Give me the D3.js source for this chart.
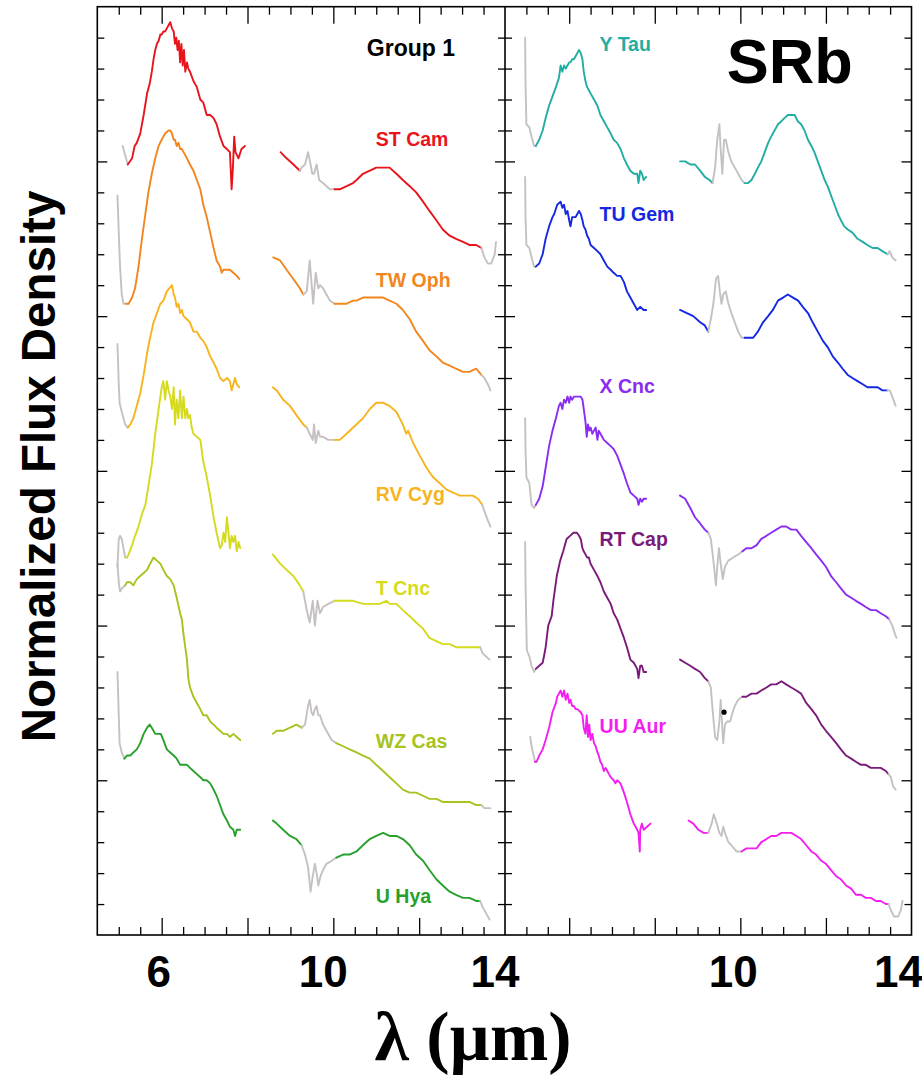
<!DOCTYPE html>
<html><head><meta charset="utf-8">
<script src="https://cdn.jsdelivr.net/npm/d3@7"></script>
<style>body{margin:0;background:#fff}svg{display:block}</style>
</head><body>
<svg id="chart" width="922" height="1082"></svg>
<script>
// ---------------- DATA (λ in µm, offset normalized flux) ----------------
const stCamA=[[5.09,25.5],[5.21,24.9],[5.31,25.1],[5.37,25.5],[5.42,25.6],[5.50,25.9],[5.58,26.5],[5.66,27.2],[5.72,27.5],[5.77,27.9],[5.81,28.3],[5.85,28.6],[5.89,28.8],[5.93,28.9],[5.97,29.1],[6.00,29.1],[6.04,29.2],[6.08,29.2],[6.12,29.3],[6.16,29.4],[6.20,29.5],[6.24,29.3],[6.28,29.2],[6.31,28.8],[6.34,29.0],[6.37,28.6],[6.40,28.9],[6.43,28.2],[6.46,28.8],[6.49,28.1],[6.52,28.6],[6.55,27.9],[6.59,28.2],[6.62,28.0],[6.66,27.9],[6.74,27.6],[6.82,27.4],[6.90,27.0],[6.97,26.9],[7.05,26.5],[7.13,26.5],[7.21,26.4],[7.28,26.2],[7.36,25.8],[7.44,25.5],[7.52,25.4],[7.59,25.3],[7.63,24.1],[7.66,24.8],[7.69,25.8],[7.72,25.3],[7.79,25.1],[7.86,25.4],[7.94,25.5]];
const stCamB=[[8.77,25.3],[8.91,25.1],[9.07,24.9],[9.22,24.7],[9.26,24.8],[9.34,24.9],[9.41,25.3],[9.47,24.9],[9.51,24.6],[9.55,24.6],[9.61,24.9],[9.67,24.4],[9.76,24.3],[9.84,24.2],[9.92,24.1],[10.03,24.1],[10.15,24.1],[10.31,24.2],[10.46,24.3],[10.54,24.4],[10.69,24.6],[10.85,24.7],[11.0,24.8],[11.16,24.8],[11.31,24.8],[11.47,24.6],[11.62,24.4],[11.78,24.2],[11.93,24.0],[12.09,23.7],[12.24,23.4],[12.4,23.1],[12.55,22.8],[12.71,22.6],[12.86,22.5],[13.02,22.4],[13.17,22.3],[13.33,22.3],[13.45,22.2],[13.52,21.9],[13.6,21.7],[13.68,21.7],[13.76,22.0],[13.79,22.4]];
const twOphA=[[4.97,23.9],[5.0,22.7],[5.03,21.6],[5.07,20.7],[5.11,20.4],[5.17,20.4],[5.23,20.4],[5.31,20.6],[5.38,20.9],[5.46,21.6],[5.54,22.5],[5.62,23.3],[5.69,24.0],[5.77,24.6],[5.85,25.1],[5.93,25.5],[6.0,25.7],[6.08,25.9],[6.16,26.0],[6.2,26.0],[6.24,25.9],[6.28,25.7],[6.31,25.7],[6.35,25.5],[6.39,25.6],[6.43,25.4],[6.47,25.4],[6.51,25.3],[6.59,25.1],[6.66,24.9],[6.74,24.7],[6.82,24.4],[6.9,24.1],[6.97,23.6],[7.05,23.2],[7.13,22.7],[7.21,22.2],[7.28,21.8],[7.36,21.6],[7.4,21.4],[7.44,21.5],[7.52,21.5],[7.59,21.5],[7.67,21.4],[7.75,21.3],[7.81,21.2]];
const twOphB=[[8.6,21.9],[8.76,21.8],[8.91,21.5],[9.07,21.2],[9.22,20.9],[9.3,20.7],[9.38,20.8],[9.45,21.8],[9.49,21.1],[9.53,20.4],[9.59,21.4],[9.65,20.9],[9.69,21.0],[9.76,20.9],[9.84,20.7],[9.92,20.5],[10.03,20.4],[10.15,20.4],[10.31,20.4],[10.46,20.5],[10.54,20.5],[10.69,20.6],[10.85,20.6],[11.0,20.6],[11.16,20.6],[11.31,20.5],[11.47,20.4],[11.62,20.2],[11.78,19.9],[11.93,19.5],[12.09,19.2],[12.24,18.9],[12.4,18.7],[12.55,18.5],[12.71,18.4],[12.86,18.3],[13.02,18.2],[13.17,18.2],[13.33,18.3],[13.45,18.1],[13.52,18.0],[13.6,17.8],[13.66,17.6]];
const rvCygA=[[4.97,19.1],[5.0,17.8],[5.02,17.2],[5.07,16.9],[5.15,16.5],[5.21,16.4],[5.27,16.5],[5.34,16.7],[5.42,17.1],[5.5,17.5],[5.58,18.1],[5.66,18.8],[5.73,19.3],[5.81,19.8],[5.89,20.1],[5.97,20.4],[6.04,20.5],[6.12,20.8],[6.24,21.0],[6.28,20.7],[6.31,20.6],[6.35,20.3],[6.39,20.4],[6.43,20.1],[6.47,20.2],[6.51,20.0],[6.59,19.9],[6.66,19.8],[6.74,19.5],[6.82,19.5],[6.9,19.3],[6.97,19.2],[7.05,19.0],[7.13,18.7],[7.21,18.5],[7.28,18.3],[7.36,18.0],[7.44,17.9],[7.52,18.0],[7.59,17.9],[7.63,17.6],[7.67,17.8],[7.71,18.0],[7.75,17.8],[7.81,17.7]];
const rvCygB=[[8.59,17.7],[8.68,17.6],[8.83,17.3],[8.99,17.1],[9.14,16.8],[9.3,16.5],[9.38,16.4],[9.45,16.2],[9.52,16.0],[9.55,16.5],[9.59,15.9],[9.65,16.3],[9.69,16.1],[9.76,16.1],[9.88,16.0],[10.03,16.0],[10.15,16.0],[10.31,16.2],[10.46,16.4],[10.54,16.5],[10.69,16.7],[10.85,17.0],[11.0,17.2],[11.08,17.2],[11.16,17.2],[11.31,17.1],[11.47,16.9],[11.62,16.5],[11.7,16.2],[11.74,16.3],[11.86,15.9],[12.01,15.5],[12.17,15.1],[12.32,14.8],[12.48,14.6],[12.63,14.4],[12.79,14.3],[12.94,14.2],[13.1,14.2],[13.25,14.2],[13.37,14.1],[13.47,13.9],[13.52,13.7],[13.6,13.4],[13.66,13.2]];
const tCncA=[[4.97,11.9],[5.0,12.8],[5.03,12.9],[5.07,12.8],[5.11,12.5],[5.15,12.2],[5.19,12.2],[5.23,12.3],[5.31,12.6],[5.38,12.9],[5.46,13.2],[5.54,13.6],[5.62,13.9],[5.69,14.5],[5.77,15.2],[5.85,16.2],[5.93,17.0],[6.0,17.7],[6.04,17.9],[6.08,17.3],[6.12,17.9],[6.16,17.6],[6.2,17.4],[6.24,17.0],[6.28,17.7],[6.31,16.5],[6.35,17.3],[6.39,16.7],[6.43,17.6],[6.47,16.7],[6.51,17.4],[6.55,16.7],[6.59,17.0],[6.62,16.7],[6.66,16.8],[6.7,16.4],[6.74,16.2],[6.82,16.1],[6.9,16.0],[6.97,15.3],[7.05,14.8],[7.13,14.2],[7.21,13.5],[7.28,13.0],[7.36,12.5],[7.4,12.6],[7.44,13.0],[7.48,12.7],[7.52,13.5],[7.55,13.1],[7.59,12.5],[7.63,12.9],[7.67,12.7],[7.71,12.9],[7.75,12.4],[7.79,12.7],[7.83,12.5]];
const tCncB=[[8.59,12.3],[8.76,12.0],[8.91,11.8],[9.07,11.6],[9.22,11.3],[9.3,11.1],[9.38,10.5],[9.45,10.1],[9.52,10.8],[9.57,10.0],[9.63,10.8],[9.69,10.4],[9.76,10.6],[9.88,10.7],[10.03,10.8],[10.23,10.8],[10.46,10.8],[10.69,10.7],[10.93,10.7],[11.08,10.7],[11.24,10.8],[11.31,10.7],[11.47,10.7],[11.62,10.5],[11.78,10.3],[11.93,10.1],[12.09,9.9],[12.24,9.6],[12.4,9.5],[12.55,9.4],[12.71,9.4],[12.86,9.3],[13.02,9.3],[13.17,9.3],[13.33,9.3],[13.42,9.3],[13.48,9.1],[13.56,9.0],[13.64,8.9]];
const wzCasA=[[4.97,12.0],[5.0,11.4],[5.03,11.1],[5.07,11.2],[5.15,11.3],[5.19,11.4],[5.27,11.4],[5.34,11.3],[5.42,11.5],[5.5,11.6],[5.58,11.7],[5.66,11.8],[5.73,12.0],[5.81,12.2],[5.89,12.1],[5.97,12.0],[6.04,11.8],[6.12,11.6],[6.2,11.5],[6.28,11.3],[6.35,10.9],[6.43,10.4],[6.47,10.2],[6.51,9.7],[6.59,8.9],[6.62,8.3],[6.66,8.0],[6.74,7.7],[6.82,7.5],[6.9,7.3],[6.97,7.1],[7.05,7.1],[7.13,6.9],[7.21,6.8],[7.28,6.7],[7.36,6.6],[7.44,6.5],[7.52,6.5],[7.59,6.4],[7.67,6.5],[7.75,6.4],[7.83,6.3]];
const wzCasB=[[8.59,6.5],[8.68,6.6],[8.83,6.6],[8.99,6.7],[9.14,6.8],[9.26,6.7],[9.34,6.8],[9.41,7.4],[9.45,7.6],[9.49,7.2],[9.53,7.1],[9.57,7.3],[9.61,7.4],[9.65,7.1],[9.69,7.1],[9.76,6.8],[9.84,6.6],[9.96,6.3],[10.07,6.2],[10.23,6.1],[10.38,6.0],[10.54,5.9],[10.69,5.8],[10.85,5.7],[11.0,5.5],[11.16,5.3],[11.31,5.1],[11.47,4.9],[11.62,4.7],[11.78,4.6],[11.93,4.6],[12.09,4.5],[12.24,4.4],[12.4,4.4],[12.55,4.3],[12.71,4.3],[12.86,4.3],[13.02,4.3],[13.17,4.3],[13.33,4.2],[13.45,4.2],[13.52,4.1],[13.6,4.1],[13.66,4.1]];
const uHyaA=[[4.97,8.5],[5.0,7.1],[5.02,6.2],[5.07,5.9],[5.13,5.7],[5.19,5.8],[5.27,5.8],[5.34,5.9],[5.42,6.0],[5.5,6.2],[5.58,6.5],[5.66,6.7],[5.72,6.8],[5.77,6.7],[5.85,6.5],[5.93,6.5],[5.98,6.5],[6.04,6.3],[6.12,6.0],[6.2,5.9],[6.28,5.8],[6.35,5.7],[6.43,5.5],[6.51,5.5],[6.59,5.5],[6.66,5.4],[6.74,5.3],[6.82,5.2],[6.9,5.1],[6.97,5.0],[7.05,5.0],[7.13,4.9],[7.21,4.7],[7.28,4.5],[7.36,4.2],[7.44,3.9],[7.52,3.7],[7.59,3.5],[7.67,3.4],[7.71,3.2],[7.75,3.4],[7.83,3.4]];
const uHyaB=[[8.59,3.7],[8.68,3.6],[8.83,3.4],[8.99,3.2],[9.14,3.1],[9.26,2.9],[9.34,2.6],[9.41,2.2],[9.47,1.4],[9.52,1.9],[9.57,2.3],[9.61,2.0],[9.65,1.6],[9.7,1.9],[9.76,2.1],[9.84,2.3],[9.96,2.4],[10.07,2.5],[10.23,2.6],[10.38,2.6],[10.54,2.7],[10.69,2.9],[10.85,3.1],[11.0,3.2],[11.16,3.3],[11.31,3.2],[11.47,3.2],[11.62,3.1],[11.78,2.9],[11.93,2.6],[12.09,2.4],[12.24,2.1],[12.4,1.8],[12.55,1.6],[12.71,1.4],[12.86,1.3],[13.02,1.2],[13.17,1.2],[13.33,1.1],[13.42,1.1],[13.48,0.9],[13.56,0.7],[13.64,0.5]];
const yTauA=[[4.97,29.0],[4.98,27.5],[5.0,26.2],[5.07,26.1],[5.12,25.8],[5.18,25.5],[5.22,25.5],[5.3,25.7],[5.38,26.0],[5.45,26.4],[5.53,26.8],[5.61,27.1],[5.69,27.4],[5.76,27.7],[5.8,28.1],[5.84,27.9],[5.88,28.1],[5.92,28.0],[5.96,28.1],[6.0,28.2],[6.03,28.2],[6.07,28.3],[6.11,28.3],[6.15,28.4],[6.19,28.5],[6.23,28.6],[6.27,28.5],[6.31,28.3],[6.34,27.9],[6.38,27.6],[6.42,27.4],[6.46,27.3],[6.5,27.2],[6.58,27.0],[6.66,26.8],[6.73,26.5],[6.81,26.3],[6.89,26.1],[6.97,25.9],[7.04,25.7],[7.12,25.6],[7.2,25.4],[7.28,25.1],[7.35,24.9],[7.43,24.7],[7.51,24.6],[7.59,24.6],[7.62,24.3],[7.66,24.7],[7.7,24.6],[7.74,24.4],[7.8,24.5]];
const yTauB=[[8.59,25.0],[8.71,25.0],[8.83,24.9],[8.94,24.9],[9.06,24.7],[9.17,24.5],[9.28,24.4],[9.35,24.3],[9.41,24.8],[9.46,25.7],[9.51,26.2],[9.54,25.4],[9.58,24.6],[9.62,25.7],[9.66,25.7],[9.72,25.3],[9.79,25.0],[9.87,24.8],[9.95,24.6],[10.03,24.4],[10.1,24.3],[10.18,24.3],[10.26,24.4],[10.34,24.6],[10.41,24.8],[10.49,25.0],[10.57,25.3],[10.65,25.6],[10.72,25.8],[10.8,26.0],[10.88,26.2],[10.96,26.3],[11.03,26.4],[11.11,26.5],[11.19,26.5],[11.27,26.5],[11.34,26.3],[11.42,26.2],[11.5,26.0],[11.58,25.7],[11.66,25.5],[11.73,25.3],[11.81,25.0],[11.89,24.7],[11.97,24.4],[12.04,24.2],[12.12,23.9],[12.2,23.6],[12.28,23.3],[12.35,23.1],[12.43,22.9],[12.51,22.8],[12.62,22.7],[12.74,22.5],[12.86,22.4],[12.97,22.3],[13.09,22.2],[13.21,22.2],[13.32,22.1],[13.44,22.0],[13.49,22.1],[13.55,21.9],[13.63,21.8]];
const tuGemA=[[4.97,24.5],[4.98,23.2],[5.0,22.3],[5.07,22.2],[5.12,21.9],[5.18,21.6],[5.22,21.6],[5.3,21.7],[5.38,22.0],[5.45,22.5],[5.53,22.9],[5.61,23.2],[5.65,23.3],[5.72,23.6],[5.8,23.7],[5.84,23.5],[5.88,23.6],[5.92,23.3],[5.96,23.4],[6.0,23.1],[6.03,22.9],[6.07,23.2],[6.11,23.2],[6.15,23.2],[6.19,23.3],[6.23,23.4],[6.27,23.3],[6.31,23.1],[6.34,22.9],[6.38,22.8],[6.42,22.6],[6.46,22.5],[6.5,22.3],[6.58,22.2],[6.66,22.1],[6.73,22.0],[6.81,21.8],[6.89,21.6],[6.97,21.5],[7.04,21.4],[7.12,21.3],[7.2,21.3],[7.28,21.1],[7.35,20.8],[7.43,20.6],[7.51,20.4],[7.59,20.2],[7.66,20.3],[7.74,20.2],[7.8,20.2]];
const tuGemB=[[8.59,20.2],[8.75,20.1],[8.9,20.0],[9.06,19.8],[9.17,19.7],[9.25,19.5],[9.31,19.9],[9.37,20.4],[9.43,21.2],[9.48,21.3],[9.52,20.8],[9.56,20.4],[9.6,20.7],[9.66,20.8],[9.72,20.4],[9.79,20.1],[9.87,19.8],[9.95,19.5],[10.03,19.3],[10.1,19.3],[10.18,19.3],[10.3,19.3],[10.41,19.5],[10.53,19.8],[10.65,20.0],[10.76,20.2],[10.88,20.5],[11.0,20.6],[11.11,20.7],[11.23,20.6],[11.35,20.5],[11.46,20.3],[11.58,20.1],[11.69,19.8],[11.81,19.5],[11.93,19.2],[12.04,19.0],[12.16,18.7],[12.28,18.5],[12.39,18.3],[12.51,18.1],[12.62,18.0],[12.74,17.9],[12.86,17.8],[12.97,17.7],[13.09,17.7],[13.21,17.7],[13.32,17.6],[13.44,17.6],[13.49,17.6],[13.55,17.4],[13.63,17.1]];
const xCncA=[[4.97,16.7],[4.98,15.7],[5.0,14.8],[5.07,14.6],[5.12,13.9],[5.18,13.8],[5.22,13.9],[5.3,14.1],[5.38,14.5],[5.45,15.1],[5.53,15.8],[5.61,16.3],[5.69,16.7],[5.76,17.1],[5.8,17.2],[5.84,17.0],[5.88,17.3],[5.92,17.2],[5.96,17.4],[6.0,17.2],[6.03,17.4],[6.07,17.3],[6.11,17.4],[6.15,17.4],[6.19,17.4],[6.23,17.4],[6.27,17.4],[6.31,17.3],[6.34,17.0],[6.38,16.6],[6.41,16.1],[6.44,16.5],[6.47,16.3],[6.5,16.4],[6.54,16.2],[6.58,16.3],[6.62,16.4],[6.66,16.0],[6.69,16.3],[6.73,16.2],[6.77,16.1],[6.81,16.0],[6.89,15.9],[6.97,15.8],[7.04,15.7],[7.12,15.5],[7.2,15.2],[7.28,14.9],[7.35,14.6],[7.43,14.3],[7.51,14.2],[7.59,14.1],[7.62,13.9],[7.66,14.1],[7.7,14.0],[7.74,14.1],[7.8,14.1]];
const xCncB=[[8.59,14.2],[8.71,14.1],[8.83,13.8],[8.94,13.5],[9.06,13.3],[9.17,13.1],[9.25,13.0],[9.31,12.8],[9.37,12.1],[9.43,11.3],[9.46,11.9],[9.5,12.5],[9.54,12.0],[9.59,11.5],[9.64,11.9],[9.72,12.1],[9.83,12.2],[9.95,12.3],[10.05,12.4],[10.14,12.5],[10.26,12.5],[10.38,12.6],[10.49,12.8],[10.61,12.9],[10.72,13.0],[10.84,13.1],[10.96,13.2],[11.07,13.2],[11.19,13.1],[11.31,13.1],[11.42,12.9],[11.54,12.7],[11.66,12.5],[11.77,12.3],[11.89,12.1],[12.0,11.9],[12.12,11.6],[12.24,11.4],[12.35,11.2],[12.47,11.0],[12.59,10.9],[12.7,10.8],[12.82,10.7],[12.93,10.6],[13.05,10.5],[13.17,10.5],[13.28,10.4],[13.4,10.3],[13.48,10.2],[13.55,10.0],[13.62,9.7],[13.65,9.6]];
const rtCapA=[[4.97,12.7],[4.98,11.4],[5.0,9.9],[5.01,9.2],[5.07,9.0],[5.12,8.7],[5.18,8.5],[5.22,8.6],[5.3,8.7],[5.38,8.8],[5.41,9.0],[5.45,9.3],[5.51,10.0],[5.59,10.3],[5.63,10.8],[5.71,11.6],[5.79,12.1],[5.86,12.4],[5.94,12.8],[6.02,12.9],[6.1,13.0],[6.18,13.0],[6.23,12.9],[6.27,12.8],[6.31,12.5],[6.34,12.4],[6.38,12.3],[6.42,12.2],[6.46,12.2],[6.5,12.0],[6.58,11.8],[6.66,11.6],[6.73,11.4],[6.81,11.1],[6.89,10.9],[6.97,10.7],[7.04,10.4],[7.12,10.2],[7.2,9.9],[7.28,9.6],[7.35,9.3],[7.43,8.9],[7.51,8.8],[7.59,8.6],[7.62,8.3],[7.66,8.7],[7.7,8.7],[7.74,8.5],[7.8,8.5]];
const rtCapB=[[8.59,8.9],[8.71,8.8],[8.83,8.7],[8.94,8.6],[9.06,8.5],[9.17,8.3],[9.25,8.2],[9.31,8.0],[9.35,7.3],[9.41,6.4],[9.46,6.3],[9.51,6.9],[9.54,7.6],[9.57,6.9],[9.6,6.2],[9.64,6.8],[9.69,6.9],[9.76,6.9],[9.82,7.2],[9.87,7.4],[9.95,7.6],[10.05,7.7],[10.14,7.7],[10.26,7.8],[10.38,7.8],[10.49,7.9],[10.61,8.0],[10.72,8.1],[10.84,8.1],[10.96,8.2],[11.07,8.1],[11.19,8.0],[11.31,7.9],[11.42,7.8],[11.54,7.5],[11.66,7.3],[11.77,7.1],[11.89,6.8],[12.0,6.6],[12.12,6.4],[12.24,6.2],[12.35,6.0],[12.47,5.8],[12.59,5.7],[12.7,5.6],[12.82,5.5],[12.93,5.5],[13.05,5.4],[13.17,5.4],[13.28,5.4],[13.4,5.3],[13.46,5.2],[13.52,5.1],[13.57,4.8],[13.63,4.7]];
const rtCapDot=[[9.62,7.2]];
const uuAurA=[[5.09,6.4],[5.12,6.1],[5.17,5.8],[5.2,5.6],[5.24,5.6],[5.3,5.8],[5.38,6.0],[5.45,6.3],[5.53,6.7],[5.61,7.2],[5.69,7.5],[5.72,7.7],[5.76,7.8],[5.8,7.9],[5.84,7.7],[5.88,7.9],[5.92,7.6],[5.96,7.8],[6.0,7.5],[6.03,7.6],[6.07,7.4],[6.11,7.4],[6.15,7.3],[6.19,7.3],[6.27,7.2],[6.31,7.1],[6.34,6.7],[6.38,6.5],[6.41,7.1],[6.44,6.4],[6.47,6.8],[6.5,6.3],[6.54,6.5],[6.58,6.2],[6.62,6.1],[6.66,5.9],[6.69,5.8],[6.73,5.6],[6.77,5.5],[6.81,5.3],[6.85,5.4],[6.89,5.3],[6.93,5.2],[6.97,5.1],[7.04,5.0],[7.08,4.9],[7.12,5.0],[7.2,4.9],[7.28,4.6],[7.35,4.3],[7.43,3.9],[7.51,3.6],[7.59,3.4],[7.62,3.3],[7.65,2.7],[7.66,3.4],[7.7,3.6],[7.74,3.4],[7.82,3.5],[7.9,3.6]];
const uuAurB=[[8.79,3.7],[8.9,3.6],[9.02,3.4],[9.14,3.3],[9.25,3.3],[9.33,3.6],[9.38,3.9],[9.45,3.6],[9.51,3.3],[9.56,3.2],[9.6,3.5],[9.64,3.3],[9.72,3.0],[9.79,2.9],[9.91,2.7],[10.03,2.7],[10.14,2.8],[10.26,2.8],[10.38,2.8],[10.49,3.0],[10.61,3.1],[10.72,3.2],[10.84,3.2],[10.96,3.3],[11.07,3.3],[11.19,3.3],[11.31,3.2],[11.42,3.1],[11.54,2.9],[11.66,2.7],[11.77,2.6],[11.89,2.4],[12.0,2.3],[12.12,2.1],[12.24,1.9],[12.35,1.8],[12.47,1.6],[12.59,1.5],[12.7,1.3],[12.82,1.3],[12.93,1.2],[13.05,1.2],[13.17,1.1],[13.28,1.1],[13.4,1.0],[13.46,1.0],[13.52,0.8],[13.59,0.6],[13.69,0.6],[13.75,0.8],[13.79,1.1]];

const starNames =["ST Cam","TW Oph","RV Cyg","T Cnc","WZ Cas","U Hya","Y Tau","TU Gem","X Cnc","RT Cap","UU Aur"];
const starShort =[stCamA,twOphA,rvCygA,tCncA,wzCasA,uHyaA,yTauA,tuGemA,xCncA,rtCapA,uuAurA];
const starLong  =[stCamB,twOphB,rvCygB,tCncB,wzCasB,uHyaB,yTauB,tuGemB,xCncB,rtCapB,uuAurB];
const starPanel =[0,0,0,0,0,0,1,1,1,1,1];
const starColors=["#e8141c","#f2861e","#f6b41e","#d6da1c","#a8c21e","#28a02c","#22ada2","#1428e2","#8a2cf2","#7a1a7a","#f41ef0"];
const grayStart =[5.21,5.2,5.21,5.21,5.17,5.16,5.2,5.2,5.2,5.2,5.22];
const grayBand  =[[9.22,10.03],[9.3,10.03],[9.38,10.03],[9.3,10.03],[9.26,10.07],[9.26,10.07],[9.35,10.1],[9.25,10.1],[9.25,10.05],[9.25,10.05],[9.25,10.03]];
const grayTail  =[13.45,13.45,13.47,13.42,13.45,13.42,13.44,13.44,13.48,13.46,13.46];
const xTickLabels=[[6,10,14],[10,14]];
const xDomain=[4.5,14];
const yDomain=[0,30];

(function(){
// ---------------- LAYOUT ----------------
const svg=d3.select("#chart");
const yTop=6.7, yBottom=935;
const panelRanges=[[97.3,505],[505,911.5]];
const y=d3.scaleLinear().domain(yDomain).range([yBottom,yTop]);
const xs=panelRanges.map(r=>d3.scaleLinear().domain(xDomain).range(r));
const gray="#c5c1c1";
const sans="'Liberation Sans', Arial, Helvetica, sans-serif";

const line=(x)=>d3.line().x(d=>x(d[0])).y(d=>y(d[1])).curve(d3.curveLinear);

function isGray(l,k){return l<grayStart[k]||(l>grayBand[k][0]&&l<grayBand[k][1])||l>grayTail[k];}
function runs(pts,k){
  const out=[];let cur=null;
  for(let i=1;i<pts.length;i++){
    const g=isGray((pts[i-1][0]+pts[i][0])/2,k);
    if(!cur||cur.g!==g){cur={g,pts:[pts[i-1]]};out.push(cur);}
    cur.pts.push(pts[i]);
  }
  return out;
}

const plot=svg.append("g");
starNames.forEach((n,k)=>{
  const x=xs[starPanel[k]];
  [starShort[k],starLong[k]].forEach(seg=>{
    runs(seg,k).forEach(r=>{
      plot.append("path").attr("d",line(x)(r.pts)).attr("fill","none")
        .attr("stroke",r.g?gray:starColors[k]).attr("stroke-width",1.9)
        .attr("stroke-linejoin","round").attr("stroke-linecap","round");
    });
  });
});
plot.selectAll("circle.dot").data(rtCapDot).enter().append("circle")
  .attr("cx",d=>xs[1](d[0])).attr("cy",d=>y(d[1])).attr("r",2.6).attr("fill","#000");

// axes (inward ticks on all sides)
const minorX=d3.range(5,14,0.5).filter(v=>v%2!==0);
const majorX=[6,8,10,12];
const minorY=d3.range(1,30,1).filter(v=>v%5!==0);
const majorY=[5,10,15,20,25];
function styleAxis(g){g.select(".domain").remove();g.selectAll("line").attr("stroke","#000").attr("stroke-width",1.3);g.selectAll("text").remove();}
xs.forEach((x,p)=>{
  svg.append("g").attr("transform",`translate(0,${yBottom})`).call(d3.axisTop(x).tickValues(minorX).tickSize(8)).call(styleAxis);
  svg.append("g").attr("transform",`translate(0,${yBottom})`).call(d3.axisTop(x).tickValues(majorX).tickSize(17)).call(styleAxis);
  svg.append("g").attr("transform",`translate(0,${yTop})`).call(d3.axisBottom(x).tickValues(minorX).tickSize(8)).call(styleAxis);
  svg.append("g").attr("transform",`translate(0,${yTop})`).call(d3.axisBottom(x).tickValues(majorX).tickSize(17)).call(styleAxis);
  const [x0,x1]=panelRanges[p];
  svg.append("g").attr("transform",`translate(${x0},0)`).call(d3.axisRight(y).tickValues(minorY).tickSize(7)).call(styleAxis);
  svg.append("g").attr("transform",`translate(${x0},0)`).call(d3.axisRight(y).tickValues(majorY).tickSize(10)).call(styleAxis);
  svg.append("g").attr("transform",`translate(${x1},0)`).call(d3.axisLeft(y).tickValues(minorY).tickSize(7)).call(styleAxis);
  svg.append("g").attr("transform",`translate(${x1},0)`).call(d3.axisLeft(y).tickValues(majorY).tickSize(10)).call(styleAxis);
});
svg.append("rect").attr("x",panelRanges[0][0]).attr("y",yTop)
  .attr("width",panelRanges[1][1]-panelRanges[0][0]).attr("height",yBottom-yTop)
  .attr("fill","none").attr("stroke","#000").attr("stroke-width",1.6);
svg.append("line").attr("x1",panelRanges[0][1]).attr("x2",panelRanges[0][1]).attr("y1",yTop).attr("y2",yBottom)
  .attr("stroke","#000").attr("stroke-width",1.6);

// tick labels
const tickShift=[[-3,-10,-10],[-7,-13]];
xTickLabels.forEach((vals,p)=>{
  vals.forEach((v,i)=>{
    svg.append("text").attr("x",xs[p](v)+tickShift[p][i]).attr("y",987)
      .attr("text-anchor","middle").attr("font-family",sans).attr("font-weight","bold")
      .attr("font-size",44).attr("fill","#000").text(v);
  });
});

// star labels: [λ, value] anchor of label start/baseline
const labelPos=[[10.99,25.5],[10.99,20.94],[10.99,14.03],[10.99,11.0],[10.99,6.05],[10.99,1.04],
                [6.71,28.57],[6.71,23.08],[6.71,17.53],[6.71,12.57],[6.71,6.54]];
starNames.forEach((n,k)=>{
  const x=xs[starPanel[k]];
  svg.append("text").attr("x",x(labelPos[k][0])).attr("y",y(labelPos[k][1]))
    .attr("font-family",sans).attr("font-weight","bold").attr("font-size",19.5)
    .attr("fill",starColors[k]).text(n);
});
svg.append("text").attr("x",xs[0](10.78)).attr("y",y(28.41)).attr("font-family",sans)
  .attr("font-weight","bold").attr("font-size",23).attr("fill","#000").text("Group 1");
svg.append("text").attr("x",xs[1](9.68)).attr("y",y(27.53)).attr("font-family",sans)
  .attr("font-weight","bold").attr("font-size",63).attr("fill","#000").text("SRb");

// axis titles
svg.append("text").attr("transform","translate(55,466.5) rotate(-90)").attr("text-anchor","middle")
  .attr("font-family",sans).attr("font-weight","bold").attr("font-size",47.5).attr("fill","#000")
  .text("Normalized Flux Density");
svg.append("text").attr("x",473).attr("y",1060).attr("text-anchor","middle")
  .attr("font-family","'Liberation Serif', 'Times New Roman', serif").attr("font-weight","bold")
  .attr("font-size",70).attr("fill","#000").text("λ (µm)");
})();
</script>
</body></html>
